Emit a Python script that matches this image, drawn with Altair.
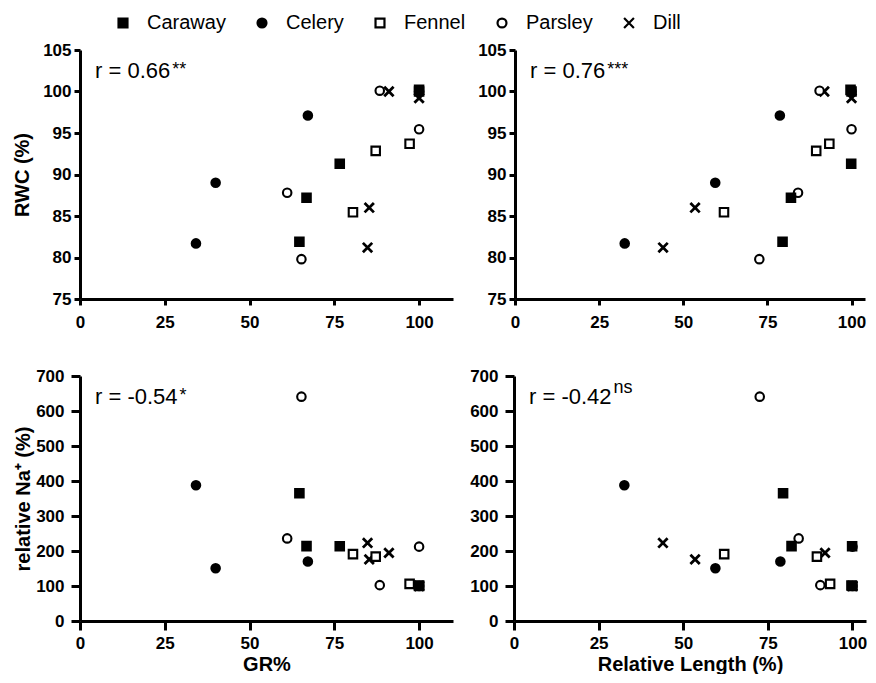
import altair as alt
import pandas as pd

# ---------------- data ----------------
species = ["Caraway", "Celery", "Fennel", "Parsley", "Dill"]
shapes = ["square", "circle", "square", "circle", "M-1.1,-1.1L1.1,1.1M-1.1,1.1L1.1,-1.1"]
fills = ["black", "black", "white", "white", "transparent"]
strokes = ["black", "black", "black", "black", "black"]
draw_order = ["Dill", "Parsley", "Fennel", "Celery", "Caraway"]

# four treatments per species
gr_pct = {
    "Caraway": [100.0, 76.6, 66.8, 64.7],
    "Celery": [100.0, 67.2, 40.0, 34.2],
    "Fennel": [100.0, 97.2, 87.2, 80.5],
    "Parsley": [88.4, 100.0, 61.1, 65.3],
    "Dill": [100.0, 91.1, 85.3, 84.8],
}
rel_length = {
    "Caraway": [99.7, 99.9, 82.0, 79.5],
    "Celery": [100.0, 78.7, 59.5, 32.6],
    "Fennel": [100.0, 93.4, 89.5, 62.1],
    "Parsley": [90.5, 100.0, 84.1, 72.6],
    "Dill": [100.0, 91.9, 53.5, 44.0],
}
rwc_pct = {
    "Caraway": [100.2, 91.3, 87.2, 81.9],
    "Celery": [100.0, 97.1, 89.0, 81.7],
    "Fennel": [100.0, 93.7, 92.85, 85.45],
    "Parsley": [100.1, 95.45, 87.8, 79.8],
    "Dill": [99.2, 100.0, 86.0, 81.2],
}
rel_na = {
    "Caraway": [101.5, 213.5, 214.0, 365.0],
    "Celery": [100.0, 170.0, 150.5, 388.0],
    "Fennel": [100.0, 106.0, 184.0, 191.0],
    "Parsley": [102.5, 212.5, 236.0, 641.0],
    "Dill": [100.0, 194.5, 176.0, 223.0],
}

r_main = ["r = 0.66", "r = 0.76", "r = -0.54", "r = -0.42"]
r_sup = ["**", "***", "*", "ns"]

x_ticks = [0, 25, 50, 75, 100]
rwc_ticks = [75, 80, 85, 90, 95, 100, 105]
na_ticks = [0, 100, 200, 300, 400, 500, 600, 700]

rows = []
for sp in draw_order:
    for i in range(4):
        rows.append({"species": sp, "gr": gr_pct[sp][i], "rl": rel_length[sp][i],
                     "rwc": rwc_pct[sp][i], "na": rel_na[sp][i]})
df = pd.DataFrame(rows)

FONT = "Liberation Sans"
CW = {"r": 0.333, " ": 0.278, "=": 0.584, ".": 0.278, "-": 0.333}


def text_w(s, size):
    return sum(CW.get(c, 0.556) for c in s) * size


LEG = alt.Legend(title=None, symbolStrokeColor="black", symbolStrokeWidth=2.2)


def panel(xcol, ycol, xdom, ydom, yvals, w, h, xtitle, ytitle,
          xtick, xpad, ytick, ypad, tpad, rm, rs):
    xaxis = alt.Axis(values=x_ticks, tickSize=xtick, labelPadding=xpad, titlePadding=3)
    yaxis = alt.Axis(values=yvals, tickSize=ytick, labelPadding=ypad, titlePadding=tpad)
    enc = dict(
        x=alt.X(f"{xcol}:Q", scale=alt.Scale(domain=xdom, nice=False, zero=False),
                axis=xaxis, title=xtitle),
        y=alt.Y(f"{ycol}:Q", scale=alt.Scale(domain=ydom, nice=False, zero=False),
                axis=yaxis, title=ytitle),
        shape=alt.Shape("species:N", scale=alt.Scale(domain=species, range=shapes), legend=LEG),
        fill=alt.Fill("species:N", scale=alt.Scale(domain=species, range=fills), legend=LEG),
        stroke=alt.Stroke("species:N", scale=alt.Scale(domain=species, range=strokes), legend=LEG),
    )
    dill = alt.Chart(df).transform_filter(alt.datum.species == "Dill").mark_point(
        filled=False, size=72, opacity=1, fillOpacity=1, strokeWidth=2.8
    ).encode(**enc)
    others = alt.Chart(df).transform_filter(alt.datum.species != "Dill").mark_point(
        filled=False, size=72, opacity=1, fillOpacity=1, strokeWidth=2.1
    ).encode(**enc)
    main_y = 21
    sup_y = 12 if rs == "ns" else 20
    t1 = alt.Chart(pd.DataFrame({"t": [rm]})).mark_text(
        align="left", baseline="middle", font=FONT, fontSize=22, color="black"
    ).encode(x=alt.value(15), y=alt.value(main_y), text="t:N")
    t2 = alt.Chart(pd.DataFrame({"t": [rs]})).mark_text(
        align="left", baseline="middle", font=FONT, fontSize=18, color="black"
    ).encode(x=alt.value(15 + text_w(rm, 22) + 2), y=alt.value(sup_y), text="t:N")
    return alt.layer(dill, others, t1, t2).properties(width=w, height=h)


tl = panel("gr", "rwc", [0, 110], [75, 105], rwc_ticks, 373, 249, None, "RWC (%)",
           6, 9, 6, 3, 10, r_main[0], r_sup[0])
tr = panel("rl", "rwc", [0, 104], [75, 105], rwc_ticks, 350, 249, None, None,
           6, 9, 6, 3, 10, r_main[1], r_sup[1])
bl = panel("gr", "na", [0, 110], [0, 700], na_ticks, 373, 245, "GR%", "relative Na⁺ (%)",
           9, 5, 9, 7, 2, r_main[2], r_sup[2])
br = panel("rl", "na", [0, 104], [0, 700], na_ticks, 352, 245, "Relative Length (%)", None,
           9, 5, 9, 7, 2, r_main[3], r_sup[3])

top = alt.hconcat(tl, tr, spacing=24)
bottom = alt.hconcat(bl, br, spacing=16)

chart = alt.vconcat(top, bottom, spacing=37).properties(
    padding={"left": 4, "top": 5, "right": 0, "bottom": 0}
).configure_view(stroke=None).configure_axis(
    domainColor="black", domainWidth=3, tickColor="black", tickWidth=3,
    grid=False, labelFont=FONT, labelFontWeight="bold", labelFontSize=17,
    labelColor="black", labelFlush=False, labelOverlap=False,
    titleFont=FONT, titleFontWeight="bold", titleFontSize=20, titleColor="black",
).configure_legend(
    orient="none", legendX=33, legendY=-37, direction="horizontal",
    labelFont=FONT, labelFontSize=20, labelColor="black", labelOffset=14,
    columnPadding=26, symbolSize=80, symbolStrokeColor="black", symbolStrokeWidth=2.2,
)

chart.save("out.html", embed_options={"renderer": "svg", "actions": False})
